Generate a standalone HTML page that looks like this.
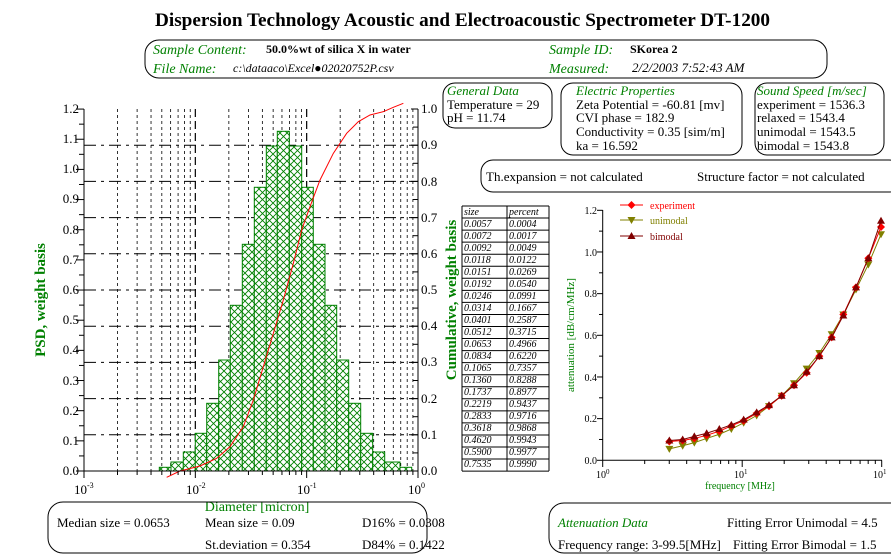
<!DOCTYPE html>
<html><head><meta charset="utf-8"><style>
body{margin:0;background:#fff;}
svg{display:block;font-family:"Liberation Serif",serif;}
.g{fill:#008000}
.it{font-style:italic}
</style></head><body>
<svg id="s" width="891" height="557" viewBox="0 0 891 557" xmlns="http://www.w3.org/2000/svg">
<defs>
<pattern id="h" width="7" height="7" patternUnits="userSpaceOnUse">
<rect width="7" height="7" fill="#fff"/>
<path d="M0,0L7,7M7,0L0,7" stroke="#008000" stroke-width="0.9"/>
</pattern>
</defs>
<text x="155" y="26" textLength="615" lengthAdjust="spacingAndGlyphs" font-size="19" font-weight="bold">Dispersion Technology Acoustic and Electroacoustic Spectrometer DT-1200</text>
<rect x="145" y="40" width="682" height="38" rx="14" fill="none" stroke="#000"/>
<text x="153" y="54" font-size="14" class="g it">Sample Content:</text>
<text x="266" y="53" font-size="12" font-weight="bold">50.0%wt of silica X in water</text>
<text x="153" y="73" font-size="14" class="g it">File Name:</text>
<text x="233" y="72" font-size="12" class="it">c:\dataaco\Excel●02020752P.csv</text>
<text x="549" y="54" font-size="14" class="g it">Sample ID:</text>
<text x="630" y="53" font-size="12" font-weight="bold">SKorea 2</text>
<text x="549" y="73" font-size="14" class="g it">Measured:</text>
<text x="632" y="72" font-size="13" class="it">2/2/2003 7:52:43 AM</text>

<rect x="443" y="83" width="109" height="45" rx="12" fill="none" stroke="#000"/>
<text x="447" y="95" font-size="13" class="g it">General Data</text>
<text x="447" y="109" font-size="13">Temperature =  29</text>
<text x="447" y="122" font-size="13">pH = 11.74</text>
<rect x="561" y="83" width="181" height="72" rx="12" fill="none" stroke="#000"/>
<text x="576" y="95" font-size="13" class="g it">Electric Properties</text>
<text x="576" y="109" font-size="13">Zeta Potential = -60.81 [mv]</text>
<text x="576" y="122" font-size="13">CVI phase = 182.9</text>
<text x="576" y="136" font-size="13">Conductivity = 0.35 [sim/m]</text>
<text x="576" y="150" font-size="13">ka = 16.592</text>
<rect x="755" y="83" width="129" height="72" rx="12" fill="none" stroke="#000"/>
<text x="757" y="95" font-size="13" class="g it">Sound Speed [m/sec]</text>
<text x="757" y="109" font-size="13">experiment = 1536.3</text>
<text x="757" y="122" font-size="13">relaxed = 1543.4</text>
<text x="757" y="136" font-size="13">unimodal = 1543.5</text>
<text x="757" y="150" font-size="13">bimodal = 1543.8</text>
<rect x="481" y="160" width="420" height="32" rx="12" fill="none" stroke="#000"/>
<text x="486" y="181" font-size="13">Th.expansion = not calculated</text>
<text x="697" y="181" font-size="13">Structure factor = not calculated</text>

<g id="grid"></g>
<g id="bars"></g>
<g id="axes" stroke="#000" fill="none"></g>
<g font-size="13">
<text x="79" y="475" text-anchor="end">0.0</text><text x="79" y="445" text-anchor="end">0.1</text>
<text x="79" y="415" text-anchor="end">0.2</text><text x="79" y="385" text-anchor="end">0.3</text>
<text x="79" y="354" text-anchor="end">0.4</text><text x="79" y="324" text-anchor="end">0.5</text>
<text x="79" y="294" text-anchor="end">0.6</text><text x="79" y="264" text-anchor="end">0.7</text>
<text x="79" y="234" text-anchor="end">0.8</text><text x="79" y="203" text-anchor="end">0.9</text>
<text x="79" y="173" text-anchor="end">1.0</text><text x="79" y="143" text-anchor="end">1.1</text>
<text x="79" y="113" text-anchor="end">1.2</text>
<text x="421" y="475">0.0</text><text x="421" y="439">0.1</text><text x="421" y="403">0.2</text>
<text x="421" y="366">0.3</text><text x="421" y="330">0.4</text><text x="421" y="294">0.5</text>
<text x="421" y="258">0.6</text><text x="421" y="222">0.7</text><text x="421" y="186">0.8</text>
<text x="421" y="149">0.9</text><text x="421" y="113">1.0</text>
<text x="74" y="494">10<tspan font-size="8" dy="-6">-3</tspan></text>
<text x="186" y="494">10<tspan font-size="8" dy="-6">-2</tspan></text>
<text x="297" y="494">10<tspan font-size="8" dy="-6">-1</tspan></text>
<text x="408" y="494">10<tspan font-size="8" dy="-6">0</tspan></text>
</g>
<text x="257" y="511" text-anchor="middle" font-size="14" class="g">Diameter [micron]</text>
<text transform="translate(45,300) rotate(-90)" text-anchor="middle" font-size="15" font-weight="bold" class="g">PSD, weight basis</text>
<text transform="translate(456,300) rotate(-90)" text-anchor="middle" font-size="15" font-weight="bold" class="g">Cumulative, weight basis</text>

<rect x="48" y="502" width="379" height="51" rx="15" fill="none" stroke="#000"/>
<g font-size="13">
<text x="57" y="527">Median size = 0.0653</text>
<text x="205" y="527">Mean size = 0.09</text>
<text x="362" y="527">D16% = 0.0308</text>
<text x="205" y="549">St.deviation = 0.354</text>
<text x="362" y="549">D84% = 0.1422</text>
</g>
<rect x="549" y="503" width="360" height="50" rx="15" fill="none" stroke="#000"/>
<text x="558" y="527" font-size="13" class="g it">Attenuation Data</text>
<text x="727" y="527" font-size="13">Fitting Error Unimodal = 4.5</text>
<text x="558" y="549" font-size="13">Frequency range: 3-99.5[MHz]</text>
<text x="733" y="549" font-size="13">Fitting Error Bimodal = 1.5</text>

<g id="table" font-size="10" class="it"></g>
<g font-size="10" class="it" id="tt">
<text x="464" y="215">size</text><text x="509" y="215">percent</text>
<text x="464" y="227">0.0057</text><text x="509" y="227">0.0004</text>
<text x="464" y="239">0.0072</text><text x="509" y="239">0.0017</text>
<text x="464" y="251">0.0092</text><text x="509" y="251">0.0049</text>
<text x="464" y="263">0.0118</text><text x="509" y="263">0.0122</text>
<text x="464" y="275">0.0151</text><text x="509" y="275">0.0269</text>
<text x="464" y="287">0.0192</text><text x="509" y="287">0.0540</text>
<text x="464" y="299">0.0246</text><text x="509" y="299">0.0991</text>
<text x="464" y="311">0.0314</text><text x="509" y="311">0.1667</text>
<text x="464" y="323">0.0401</text><text x="509" y="323">0.2587</text>
<text x="464" y="335">0.0512</text><text x="509" y="335">0.3715</text>
<text x="464" y="347">0.0653</text><text x="509" y="347">0.4966</text>
<text x="464" y="359">0.0834</text><text x="509" y="359">0.6220</text>
<text x="464" y="371">0.1065</text><text x="509" y="371">0.7357</text>
<text x="464" y="383">0.1360</text><text x="509" y="383">0.8288</text>
<text x="464" y="395">0.1737</text><text x="509" y="395">0.8977</text>
<text x="464" y="407">0.2219</text><text x="509" y="407">0.9437</text>
<text x="464" y="419">0.2833</text><text x="509" y="419">0.9716</text>
<text x="464" y="431">0.3618</text><text x="509" y="431">0.9868</text>
<text x="464" y="443">0.4620</text><text x="509" y="443">0.9943</text>
<text x="464" y="455">0.5900</text><text x="509" y="455">0.9977</text>
<text x="464" y="467">0.7535</text><text x="509" y="467">0.9990</text>
</g>

<g id="att"></g>
<g font-size="10">
<text x="597" y="464" text-anchor="end">0.0</text><text x="597" y="422" text-anchor="end">0.2</text>
<text x="597" y="381" text-anchor="end">0.4</text><text x="597" y="339" text-anchor="end">0.6</text>
<text x="597" y="297" text-anchor="end">0.8</text><text x="597" y="256" text-anchor="end">1.0</text>
<text x="597" y="214" text-anchor="end">1.2</text>
<text x="596" y="478">10<tspan font-size="7" dy="-4">0</tspan></text>
<text x="734" y="478">10<tspan font-size="7" dy="-4">1</tspan></text>
<text x="873" y="478">10<tspan font-size="7" dy="-4">1</tspan></text>
</g>
<text x="740" y="489" text-anchor="middle" font-size="10" class="g">frequency [MHz]</text>
<text transform="translate(574,335) rotate(-90)" text-anchor="middle" font-size="11" class="g">attenuation [dB/cm/MHz]</text>
<text x="650" y="209" font-size="10" fill="#ff0000">experiment</text>
<text x="650" y="224" font-size="10" fill="#808000">unimodal</text>
<text x="650" y="240" font-size="10" fill="#800000">bimodal</text>
</svg>
<script>
var NS="http://www.w3.org/2000/svg";
function el(p,t,a){var e=document.createElementNS(NS,t);for(var k in a)e.setAttribute(k,a[k]);document.getElementById(p).appendChild(e);return e;}
var X0=84,DEC=111.33;
function lx(v){return X0+(Math.log10(v)+3)*DEC;}
for(var d=-3;d<0;d++)for(var m=1;m<10;m++){var x=lx(m*Math.pow(10,d));if(m==1&&d==-3)continue;
 el("grid","line",{x1:x,y1:109,x2:x,y2:471,stroke:"#000","stroke-width":m==1?1.2:0.8,"stroke-dasharray":m==1?"8,4":"3,3"});}
for(var k=1;k<=9;k++){var y=471-36.2*k;el("grid","line",{x1:84,y1:y,x2:418,y2:y,stroke:"#000","stroke-width":1,"stroke-dasharray":"12,5,3,5"});}
var E=[159.3,171,183.3,195.3,206.7,218.7,230.3,242.3,254.3,266.3,277.3,289.3,301.7,313.3,325,336.7,348.7,360.7,372.7,384.7,400,411.7];
var T=[467.3,462,452,433.3,403.3,360,305.3,244.3,187.3,146,131.3,146,187.3,244.3,305.3,360,403.3,433.3,452,462,467.3];
for(var i=0;i<21;i++)el("bars","rect",{x:E[i],y:T[i],width:E[i+1]-E[i],height:471-T[i],fill:"url(#h)",stroke:"#008000","stroke-width":1});
var C=[[500,1162],[540,1143],[600,1128],[650,1105],[690,1070],[730,1010],[760,930],[790,830],[820,730],[850,630],[880,520],[905,420],[930,350],[960,270],[1000,190],[1040,130],[1075,95],[1110,75],[1150,65],[1180,52],[1210,40]];
el("bars","polyline",{points:C.map(function(p){return (p[0]/3)+","+(p[1]/3+90)}).join(" "),fill:"none",stroke:"#ff0000","stroke-width":1});
var A="axes";
el(A,"line",{x1:84,y1:109,x2:84,y2:471});el(A,"line",{x1:84,y1:471,x2:418,y2:471});el(A,"line",{x1:418,y1:109,x2:418,y2:471});
for(var k=0;k<=24;k++){var y=471-15.08*k;el(A,"line",{x1:k%2?79:76,y1:y,x2:84,y2:y});}
for(var k=0;k<=20;k++){var y=471-18.1*k;el(A,"line",{x1:k%2?413:411,y1:y,x2:418,y2:y});}
for(var d=-3;d<=0;d++)for(var m=1;m<10;m++){var x=lx(m*Math.pow(10,d));if(x>418.5)break;el(A,"line",{x1:x,y1:471,x2:x,y2:m==1?478:475});}
for(var r=0;r<=22;r++){var y=206+r*12.05;el("table","line",{x1:462,y1:y,x2:549,y2:y,stroke:"#000"});}
el("table","line",{x1:462,y1:206,x2:462,y2:471,stroke:"#000"});el("table","line",{x1:507,y1:206,x2:507,y2:471,stroke:"#000"});el("table","line",{x1:549,y1:206,x2:549,y2:471,stroke:"#000"});
var B="att";
function ax(f){return 602.7+Math.log10(f)*139.5;}function ay(v){return 460.3-v*208.33;}
el(B,"line",{x1:602.7,y1:210,x2:602.7,y2:460.3,stroke:"#000"});el(B,"line",{x1:602.7,y1:460.3,x2:882,y2:460.3,stroke:"#000"});
for(var k=0;k<=12;k++){var y=ay(k*0.1);el(B,"line",{x1:k%2?599:597,y1:y,x2:602.7,y2:y,stroke:"#000"});}
for(var d=0;d<2;d++)for(var m=1;m<10;m++){var x=ax(m*Math.pow(10,d));el(B,"line",{x1:x,y1:460.3,x2:x,y2:m==1?467:464,stroke:"#000"});}
el(B,"line",{x1:881.7,y1:460.3,x2:881.7,y2:467,stroke:"#000"});
var PX=[643,683,718,755,793,829,866,905,942,980,1017,1055,1093,1130,1165,1203,1240,1278].map(function(v){return v/3+455});
var S=[
 {c:"#808000",m:"d",v:[0.055,0.07,0.085,0.105,0.125,0.15,0.18,0.215,0.26,0.31,0.37,0.44,0.515,0.605,0.70,0.82,0.94,1.085]},
 {c:"#ff0000",m:"o",v:[0.09,0.095,0.105,0.12,0.14,0.165,0.19,0.225,0.26,0.31,0.36,0.42,0.5,0.59,0.70,0.83,0.97,1.12]},
 {c:"#800000",m:"u",v:[0.095,0.10,0.115,0.13,0.15,0.17,0.195,0.23,0.265,0.31,0.36,0.425,0.50,0.59,0.695,0.83,0.97,1.15]}];
function mk(x,y,s){if(s.m=="o")el(B,"path",{d:"M"+(x-4)+","+y+"L"+x+","+(y-4)+"L"+(x+4)+","+y+"L"+x+","+(y+4)+"Z",fill:s.c});
 else if(s.m=="d")el(B,"path",{d:"M"+(x-4)+","+(y-3)+"L"+(x+4)+","+(y-3)+"L"+x+","+(y+4)+"Z",fill:s.c});
 else el(B,"path",{d:"M"+(x-4)+","+(y+3)+"L"+(x+4)+","+(y+3)+"L"+x+","+(y-4)+"Z",fill:s.c});}
S.forEach(function(s){el(B,"polyline",{points:s.v.map(function(v,i){return PX[i]+","+ay(v)}).join(" "),fill:"none",stroke:s.c,"stroke-width":1});
 s.v.forEach(function(v,i){mk(PX[i],ay(v),s)});});
var L=[[205,S[1]],[220,S[0]],[236,S[2]]];
L.forEach(function(l){el(B,"line",{x1:620,y1:l[0],x2:643,y2:l[0],stroke:l[1].c});mk(631.5,l[0],l[1]);});
</script>
</body></html>
